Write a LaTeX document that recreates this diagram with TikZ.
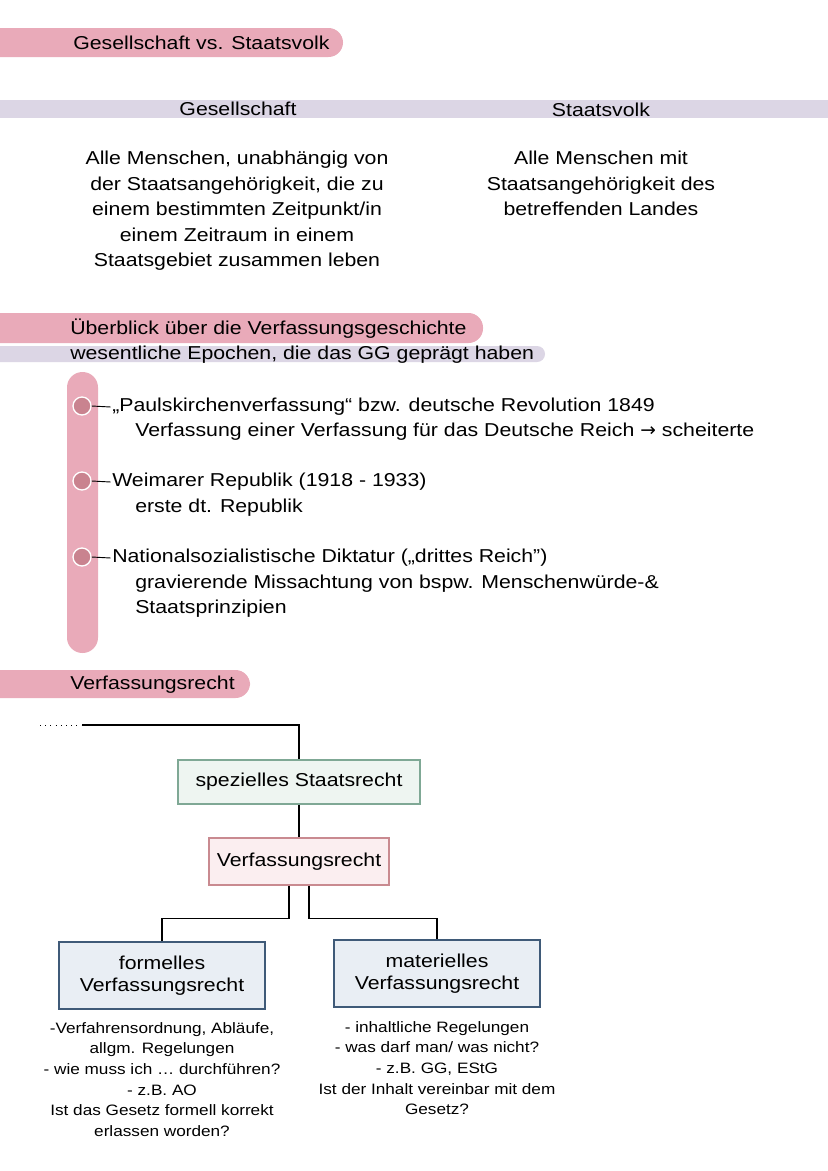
\documentclass[tikz,border=0pt]{standalone}
\usepackage{fontspec}
\setmainfont[FakeStretch=1.14]{Liberation Sans}
\newfontfamily\djv{DejaVu Sans}
\usetikzlibrary{calc}
\definecolor{pinkbar}{HTML}{E9AAB9}
\definecolor{lavbar}{HTML}{DCD6E5}
\definecolor{dotrose}{HTML}{C9838F}
\definecolor{spezfill}{HTML}{EEF5F1}
\definecolor{spezdraw}{HTML}{7FA895}
\definecolor{verffill}{HTML}{FBEEF0}
\definecolor{verfdraw}{HTML}{C98A90}
\definecolor{formfill}{HTML}{E9EEF4}
\definecolor{formdraw}{HTML}{3F5A78}
\tikzset{
  big/.style={font=\fontsize{14}{19.1}\selectfont, inner sep=0pt},
  small/.style={font=\fontsize{11.3}{15.5}\selectfont, inner sep=0pt, align=center},
  tbar/.style={fill=pinkbar, rounded corners=10.9pt},
  lbar/.style={fill=lavbar},
  dotnode/.style={circle, fill=dotrose, draw=white, line width=1pt, minimum size=13.5pt, inner sep=0pt},
  boxnode/.style={draw, line width=0.9pt, font=\fontsize{14}{16.5}\selectfont, align=center, inner sep=0pt},
  conn/.style={line width=0.9pt, black},
}
\begin{document}
\begin{tikzpicture}[x=0.75pt,y=-0.75pt]
\useasboundingbox (0,0) rectangle (828,1171);
\fill[white] (0,0) rectangle (828,1171);
% --- Section 1
\fill[tbar] (-40,28) rectangle (343,57);
\node[big, anchor=west] (t1) at (73,43) {Gesellschaft vs. Staatsvolk};
\fill[lbar] (0,100) rectangle (828,118);
\node[big] (hg) at (238,109) {Gesellschaft};
\node[big] (hs) at (601,110) {Staatsvolk};
\node[big, align=center, anchor=north] (tg) at (237,151) {Alle Menschen, unabhängig von\\der Staatsangehörigkeit, die zu\\einem bestimmten Zeitpunkt/in\\einem Zeitraum in einem\\Staatsgebiet zusammen leben};
\node[big, align=center, anchor=north] (ts) at (601,151) {Alle Menschen mit\\Staatsangehörigkeit des\\betreffenden Landes};
% --- Section 2
\fill[lbar, rounded corners=6pt] (-40,346) rectangle (545,362);
\fill[tbar] (-40,313) rectangle (483,343);
\node[big, anchor=west] (t2) at (70,329) {Überblick über die Verfassungsgeschichte};
\node[big, anchor=west] (t2b) at (70,355) {wesentliche Epochen, die das GG geprägt haben};
\fill[pinkbar, rounded corners=11.6pt] (67,372) rectangle (98,653);
\node[dotnode] (d1) at (82,406) {};
\node[dotnode] (d2) at (82,481) {};
\node[dotnode] (d3) at (82,557) {};
\node[big, anchor=west] (e1) at (112,407) {„Paulskirchenverfassung“ bzw. deutsche Revolution 1849};
\node[big, anchor=west] (e1b) at (135,432) {Verfassung einer Verfassung für das Deutsche Reich {\djv →} scheiterte};
\node[big, anchor=west] (e2) at (112,482) {Weimarer Republik (1918 - 1933)};
\node[big, anchor=west] (e2b) at (135,508) {erste dt. Republik};
\node[big, anchor=west] (e3) at (112,558) {Nationalsozialistische Diktatur („drittes Reich")};
\node[big, anchor=west, align=left] (e3b) at (135,596) {gravierende Missachtung von bspw. Menschenwürde-\&\\Staatsprinzipien};
\draw[line width=0.7pt] (d1.east) -- ([xshift=-1pt]e1.west);
\draw[line width=0.7pt] (d2.east) -- ([xshift=-1pt]e2.west);
\draw[line width=0.7pt] (d3.east) -- ([xshift=-1pt]e3.west);
% --- Section 3
\fill[tbar] (-40,670) rectangle (250,698);
\node[big, anchor=west] (t3) at (70,685) {Verfassungsrecht};
\node[boxnode, fill=spezfill, draw=spezdraw, minimum width=181.5pt, minimum height=33pt] (spez) at (299,782) {spezielles Staatsrecht};
\node[boxnode, fill=verffill, draw=verfdraw, minimum width=135pt, minimum height=35.25pt] (verf) at (299,861.5) {Verfassungsrecht};
\node[boxnode, fill=formfill, draw=formdraw, minimum width=154.5pt, minimum height=50.25pt] (form) at (162,975.5) {formelles\\Verfassungsrecht};
\node[boxnode, fill=formfill, draw=formdraw, minimum width=154.5pt, minimum height=50.25pt] (mat) at (437,973.5) {materielles\\Verfassungsrecht};
\coordinate (dotA) at (40,725);
\coordinate (dotB) at (82,725);
\draw[dash pattern=on 0.7pt off 3.2pt, line width=0.7pt] (dotA) -- (dotB);
\draw[conn] (dotB) -| (spez.north);
\draw[conn] (spez.south) -- (verf.north);
\draw[conn] ([xshift=-7.5pt]verf.south) -- ++(0,33) -| (form.north);
\draw[conn] ([xshift=7.5pt]verf.south) -- ++(0,33) -| (mat.north);
\node[small, anchor=north] (fl) at (162,1022) {-Verfahrensordnung, Abläufe,\\allgm. Regelungen\\- wie muss ich … durchführen?\\- z.B. AO\\Ist das Gesetz formell korrekt\\erlassen worden?};
\node[small, anchor=north] (ml) at (437,1021) {- inhaltliche Regelungen\\- was darf man/ was nicht?\\- z.B. GG, EStG\\Ist der Inhalt vereinbar mit dem\\Gesetz?};
\end{tikzpicture}
\end{document}
